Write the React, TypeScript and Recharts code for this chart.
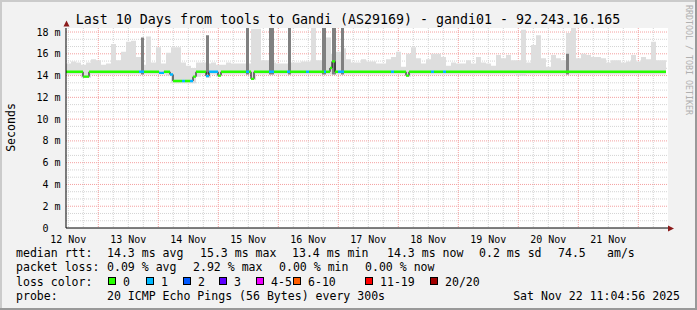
import React from 'react';
import { ComposedChart, Area, Line, XAxis, YAxis, CartesianGrid } from 'recharts';

const FONT = "'DejaVu Sans Mono', monospace";

// ---------- data ----------
const dayLabels = ['12 Nov', '13 Nov', '14 Nov', '15 Nov', '16 Nov', '17 Nov', '18 Nov', '19 Nov', '20 Nov', '21 Nov'];
const yTicks = [0, 2, 4, 6, 8, 10, 12, 14, 16, 18];
const firstNoonHour = 0.92; // hours after graph start (Nov 12 11:05)
const firstMidnightHour = 12.92;

// smoke (2-hour bins), top and bottom of ping spread, in ms
const smokeTop = [
  15.1, 15.3, 15.2, 15.0, 15.2, 15.5, 15.4, 15.0, 15.1, 16.9,
  15.4, 16.2, 17.1, 17.2, 15.7, 15.0, 17.6, 15.2, 16.6, 15.1,
  16.1, 16.6, 16.6, 15.2, 14.9, 14.7, 15.2, 15.2, 15.1, 15.2,
  15.0, 15.0, 15.2, 15.1, 15.1, 15.1, 15.1, 18.3, 18.3, 15.4,
  15.4, 15.2, 15.1, 15.1, 15.1, 15.2, 15.2, 15.3, 15.3, 18.4,
  15.4, 15.4, 17.5, 16.0, 16.2, 16.5, 15.5, 15.2, 15.2, 15.5,
  15.3, 15.3, 15.1, 15.1, 15.5, 15.7, 16.2, 14.8, 16.0, 16.6,
  15.6, 15.1, 15.5, 16.0, 16.0, 15.7, 14.9, 15.2, 15.1, 15.1,
  15.4, 15.1, 15.7, 15.2, 15.1, 14.9, 15.9, 15.6, 15.9, 15.4,
  15.4, 18.2, 15.2, 16.8, 17.7, 15.6, 14.8, 15.9, 15.6, 15.4,
  17.9, 18.4, 15.6, 16.0, 15.9, 15.7, 15.7, 15.6, 15.2, 15.4,
  15.4, 15.2, 15.3, 15.9, 15.3, 15.7, 15.5, 17.1, 15.4, 15.4,
];
const smokeLow = [
  14.1, 14.1, 14.1, 13.8, 13.8, 14.1, 14.1, 14.1, 14.1, 14.1,
  14.1, 14.1, 14.1, 14.1, 14.1, 14.1, 14.1, 14.1, 14.1, 14.1,
  14.0, 13.3, 13.3, 13.3, 13.3, 13.3, 13.9, 14.1, 13.8, 14.1,
  13.9, 14.1, 14.1, 14.1, 14.1, 14.1, 14.1, 13.6, 14.1, 14.1,
  14.1, 14.1, 14.1, 14.1, 14.1, 14.1, 14.1, 14.1, 14.1, 14.1,
  14.1, 14.1, 14.1, 14.1, 14.1, 14.1, 14.1, 14.1, 14.1, 14.1,
  14.1, 14.1, 14.1, 14.1, 14.1, 14.1, 14.1, 14.1, 13.9, 14.1,
  14.1, 14.1, 14.1, 14.1, 14.1, 14.1, 14.1, 14.1, 14.1, 14.1,
  14.1, 14.1, 14.1, 14.1, 14.1, 14.1, 14.1, 14.1, 14.1, 14.1,
  14.0, 14.0, 14.1, 14.1, 14.1, 14.1, 14.1, 14.1, 14.1, 14.1,
  14.1, 14.1, 14.1, 14.1, 14.1, 14.1, 14.1, 14.1, 14.1, 14.1,
  14.1, 14.1, 14.1, 14.1, 14.1, 14.1, 14.1, 14.1, 14.1, 14.1,
];

// dark spikes (many pings high)
const spikeStart = [30.0, 56.0, 72.0, 81.2, 88.8, 102.4, 106.4, 110.0, 200.0];
const spikeWidth = [1.2, 1.2, 1.2, 2.0, 1.2, 1.6, 1.6, 1.2, 1.2];
const spikeTop = [17.5, 17.7, 18.4, 18.4, 18.4, 18.4, 18.4, 18.4, 16.0];

// median rtt segments (start hour, value ms, loss class)
const medStart = [0, 6.8, 9.2, 29.2, 31.2, 37.2, 39.2, 41.6, 42.8, 46.4, 47.6, 49.6, 50.8, 52, 56, 57.2, 60.8, 62, 72, 73.2, 74, 75.2, 81.2, 83.2, 88.4, 89.6, 96, 97.2, 103.2, 104, 105.6, 106.4, 107.6, 108.8, 111.2, 130, 131.2, 136, 137.2, 146, 147.2, 150.8, 152];
const medValue = [14.35, 13.9, 14.35, 14.35, 14.35, 14.25, 14.35, 14.1, 13.5, 13.5, 13.5, 13.5, 13.9, 14.35, 13.95, 14.35, 14.0, 14.35, 14.35, 14.35, 13.7, 14.35, 14.35, 14.35, 14.35, 14.35, 14.35, 14.35, 14.35, 14.35, 14.7, 15.3, 14.35, 14.35, 14.35, 14.35, 14.35, 14.0, 14.35, 14.35, 14.35, 14.35, 14.35];
const medLoss = [0, 0, 0, 1, 0, 1, 0, 1, 0, 1, 0, 1, 0, 0, 1, 1, 0, 0, 1, 0, 0, 0, 1, 0, 1, 0, 1, 0, 1, 0, 0, 0, 0, 1, 0, 1, 0, 0, 0, 1, 0, 1, 0];
const endHour = 240;

const lossColors = ['#26ff00', '#00b8ff', '#0059ff', '#5e00ff', '#ee00ff', '#ff5e00', '#ff0000', '#a10000'];
const lossLabels = ['0', '1', '2', '3', '4-5', '6-10', '11-19', '20/20'];

const titleText = 'Last 10 Days from tools to Gandi (AS29169) - gandi01 - 92.243.16.165';
const legendLine1 = [[16, 'median rtt:'], [107, '14.3 ms avg'], [200, '15.3 ms max'], [292, '13.4 ms min'], [387, '14.3 ms now'], [479, '0.2 ms sd'], [558, '74.5'], [607, 'am/s']];
const legendLine2 = [[16, 'packet loss:'], [107, '0.09 % avg'], [193, '2.92 % max'], [279, '0.00 % min'], [365, '0.00 % now']];
const legendBoxX = [108, 146, 183, 219, 256, 293, 365, 430];
const legendLine4 = [[16, 'probe:'], [107, '20 ICMP Echo Pings (56 Bytes) every 300s']];
const stampText = 'Sat Nov 22 11:04:56 2025';

// ---------- derived tables ----------
const smokeData = smokeTop.map((v, i) => ({ t: i * 2, r: [smokeLow[i], v] }));
smokeData.push({ t: endHour, r: [smokeLow[smokeLow.length - 1], smokeTop[smokeTop.length - 1]] });

const spikeData: any[] = [{ t: 0, r: [14.1, 14.1] }];
spikeStart.forEach((s, i) => {
  spikeData.push({ t: s, r: [14.1, spikeTop[i]] });
  spikeData.push({ t: s + spikeWidth[i], r: [14.1, 14.1] });
});
spikeData.push({ t: endHour, r: [14.1, 14.1] });

const medianPath = medStart.map((s, i) => ({ t: s, v: medValue[i] }));
medianPath.push({ t: endHour, v: medValue[medValue.length - 1] });

const segData = [0, 1].map((cls) => {
  const arr: any[] = [];
  medStart.forEach((s, i) => {
    if (medLoss[i] !== cls) return;
    const e = i + 1 < medStart.length ? medStart[i + 1] : endHour;
    arr.push({ t: s, v: medValue[i] });
    arr.push({ t: e, v: medValue[i] });
    arr.push({ t: e, v: null });
  });
  return arr;
});

const noonTicks = dayLabels.map((_, k) => firstNoonHour + 24 * k);
const majorV = dayLabels.map((_, k) => firstMidnightHour + 24 * k);
const minorV: number[] = [];
for (let h = firstNoonHour; h <= 240.8; h += 6) {
  if (!majorV.some((m) => Math.abs(m - h) < 0.01)) minorV.push(h);
}
const minorH: number[] = [];
for (let k = 1; k <= 27; k++) if (k % 3 !== 0) minorH.push((k * 2) / 3);
const majorH = yTicks.filter((v) => v > 0);

const YTick = (props: any) => {
  const { y, payload } = props;
  const v = payload.value;
  const label = v === 0 ? ' 0' : `${v < 10 ? ' ' : ''}${v} m`;
  return (
    <text x={36.5} y={y} dy={3.5} fontFamily={FONT} fontSize={10} fill="#000" xmlSpace="preserve" style={{ whiteSpace: 'pre' }}>
      {label}
    </text>
  );
};

export default function App() {
  const textProps = { fontFamily: FONT, fontSize: 11.55, fill: '#000', xmlSpace: 'preserve', style: { whiteSpace: 'pre' as const } };
  return (
    <div style={{ position: 'relative', width: 697, height: 310, background: '#f2f2f2', overflow: 'hidden' }}>
      <style>{'body{margin:0}'}</style>
      <div style={{ position: 'absolute', left: 0, top: 0 }}>
        <ComposedChart width={697} height={310} margin={{ top: 28, right: 29, bottom: 52, left: 6 }}>
          <CartesianGrid
            fill="#ffffff"
            stroke="#d4d4d4"
            strokeDasharray="1 1"
            horizontalValues={minorH}
            verticalValues={minorV}
            syncWithTicks={false}
          />
          <CartesianGrid
            stroke="#f4a0a0"
            strokeDasharray="1 1"
            horizontalValues={majorH}
            verticalValues={majorV}
            syncWithTicks={false}
          />
          <XAxis
            type="number"
            dataKey="t"
            domain={[0, 240.8]}
            ticks={noonTicks}
            interval={0}
            allowDataOverflow
            tickFormatter={(_v: any, i: number) => dayLabels[i]}
            axisLine={{ stroke: '#000' }}
            tickLine={false}
            tick={{ fontFamily: FONT, fontSize: 10, fill: '#000' }}
            height={30}
          />
          <YAxis
            type="number"
            domain={[0, 18.37]}
            ticks={yTicks}
            interval={0}
            allowDataOverflow
            width={60}
            axisLine={{ stroke: '#000' }}
            tickLine={false}
            tick={<YTick />}
          />
          <Area data={smokeData} dataKey="r" type="stepAfter" fill="#dedede" fillOpacity={1} stroke="none" isAnimationActive={false} />
          <Area data={spikeData} dataKey="r" type="stepAfter" fill="#808080" fillOpacity={1} stroke="none" isAnimationActive={false} />
          <Line data={medianPath} dataKey="v" type="stepAfter" stroke="#000" strokeWidth={1} dot={false} isAnimationActive={false} />
          {segData.map((d, c) => (
            <Line key={'seg' + c} data={d} dataKey="v" type="linear" stroke={lossColors[c]} strokeWidth={2.4} dot={false} connectNulls={false} isAnimationActive={false} />
          ))}
        </ComposedChart>
      </div>
      <svg width={697} height={310} style={{ position: 'absolute', left: 0, top: 0, pointerEvents: 'none' }}>
        <rect x={0} y={0} width={697} height={2} fill="#cbcbcb" />
        <rect x={0} y={0} width={2} height={310} fill="#cbcbcb" />
        <rect x={695} y={0} width={2} height={310} fill="#999999" />
        <rect x={0} y={308} width={697} height={2} fill="#999999" />
        <polygon points="63.5,26.5 69.5,26.5 66.5,20.5" fill="#8b1a1a" />
        <polygon points="668,225.5 668,231.5 674,228.5" fill="#8b1a1a" />
        <text x={348} y={24} textAnchor="middle" fontFamily={FONT} fontSize={13.3} fill="#000">{titleText}</text>
        <text x={686} y={5} transform="rotate(90 686 5)" fontFamily={FONT} fontSize={8.3} fill="#b0b0b0">RRDTOOL / TOBI OETIKER</text>
        <text x={14.5} y={127.5} transform="rotate(-90 14.5 127.5)" textAnchor="middle" fontFamily={FONT} fontSize={11.55} fill="#000">Seconds</text>
        {legendLine1.map(([x, s]) => (
          <text key={'l1' + x} x={x as number} y={257} {...(textProps as any)}>{s}</text>
        ))}
        {legendLine2.map(([x, s]) => (
          <text key={'l2' + x} x={x as number} y={271.3} {...(textProps as any)}>{s}</text>
        ))}
        <text x={16} y={285.6} {...(textProps as any)}>loss color:</text>
        {lossLabels.map((lab, i) => (
          <g key={'lb' + i}>
            <rect x={legendBoxX[i] + 0.5} y={277.5} width={7} height={7} fill={lossColors[i]} stroke="#000" strokeWidth={1} />
            <text x={legendBoxX[i] + 15} y={285.6} {...(textProps as any)}>{lab}</text>
          </g>
        ))}
        {legendLine4.map(([x, s]) => (
          <text key={'l4' + x} x={x as number} y={300} {...(textProps as any)}>{s}</text>
        ))}
        <text x={680} y={300} textAnchor="end" {...(textProps as any)}>{stampText}</text>
      </svg>
    </div>
  );
}
